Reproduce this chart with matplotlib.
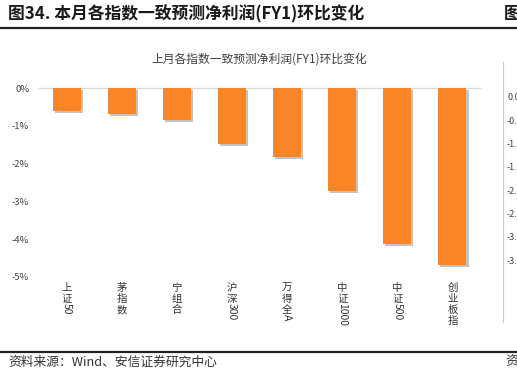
import matplotlib
import matplotlib.pyplot as plt
import matplotlib.patheffects as pe

plt.rcParams["font.family"] = ["Noto Sans CJK SC", "DejaVu Sans"]

labels = ["上证50", "茅指数", "宁组合", "沪深300", "万得全A", "中证1000", "中证500", "创业板指"]
values = [-0.61, -0.69, -0.85, -1.47, -1.83, -2.72, -4.13, -4.68]  # %
yticks = [0, -1, -2, -3, -4, -5]
side_ticks = ["0.0", "-0.5", "-1.0", "-1.5", "-2.0", "-2.5", "-3.0", "-3.5"]

W, H = 517, 376
fig = plt.figure(figsize=(W / 100, H / 100), dpi=100)

def fx(px):
    return px / W

def fy(py):
    return 1 - py / H

# header / footer of the report page
fig.text(fx(8), fy(14), "图34. 本月各指数一致预测净利润(FY1)环比变化", fontsize=12.1,
         fontweight="bold", color="#1a1a1a", va="center", ha="left")
fig.text(fx(504), fy(14), "图", fontsize=12.1, fontweight="bold", color="#1a1a1a",
         va="center", ha="left")
fig.add_artist(plt.Line2D([0, 1], [fy(27.5), fy(27.5)], color="#222222", lw=1.6))
fig.add_artist(plt.Line2D([0, 1], [fy(351.5), fy(351.5)], color="#222222", lw=1.6))
fig.text(fx(8), fy(362), "资料来源：Wind、安信证券研究中心", fontsize=9.2, color="#333333",
         va="center", ha="left", style="italic")
fig.text(fx(505), fy(362), "资", fontsize=9.2, color="#333333", va="center", ha="left")

# neighbouring chart fragment on the right
fig.add_artist(plt.Line2D([fx(503), fx(503)], [fy(62), fy(322)], color="#c8c8c8", lw=0.8))
for k, t in enumerate(side_ticks):
    fig.text(fx(507), fy(98 + k * 23.3), t, fontsize=6.5, color="#404040", va="center", ha="left")

# main chart
ax = fig.add_axes([fx(39), fy(277), fx(480) - fx(39), fy(88) - fy(277)])
x = list(range(len(labels)))
bars = ax.bar(x, values, width=0.51, color="#FA8628", zorder=3)
for b in bars:
    b.set_path_effects([pe.SimplePatchShadow(offset=(1.5, -1.5), shadow_rgbFace="#888888", alpha=0.5),
                        pe.Normal()])

ax.set_xlim(-0.5, len(labels) - 0.5)
ax.set_ylim(-5, 0)
ax.set_yticks(yticks)
ax.set_yticklabels([f"{v}%" for v in yticks], fontsize=6.8, color="#404040")
ax.tick_params(axis="y", length=0, pad=7)
ax.set_xticks([])
for s in ["left", "right", "bottom"]:
    ax.spines[s].set_visible(False)
ax.spines["top"].set_color("#d9d9d9")
ax.spines["top"].set_linewidth(0.9)

ax.set_title("上月各指数一致预测净利润(FY1)环比变化", fontsize=8.5, color="#404040", pad=18)

# vertical category labels: CJK upright, latin/digits rotated
for i, lab in enumerate(labels):
    off = 6
    j = 0
    while j < len(lab):
        ch = lab[j]
        if ord(ch) > 127:
            ax.annotate(ch, xy=(i, 0), xycoords=("data", "axes fraction"), xytext=(0, -off),
                        textcoords="offset pixels", ha="center", va="top", fontsize=7.5,
                        color="#333333")
            off += 11
            j += 1
        else:
            run = ""
            while j < len(lab) and ord(lab[j]) <= 127:
                run += lab[j]
                j += 1
            ax.annotate(run, xy=(i, 0), xycoords=("data", "axes fraction"), xytext=(0, -off + 2),
                        textcoords="offset pixels", ha="center", va="top", fontsize=7.5,
                        color="#333333", rotation=-90)

fig.savefig("out.png", dpi=100)
